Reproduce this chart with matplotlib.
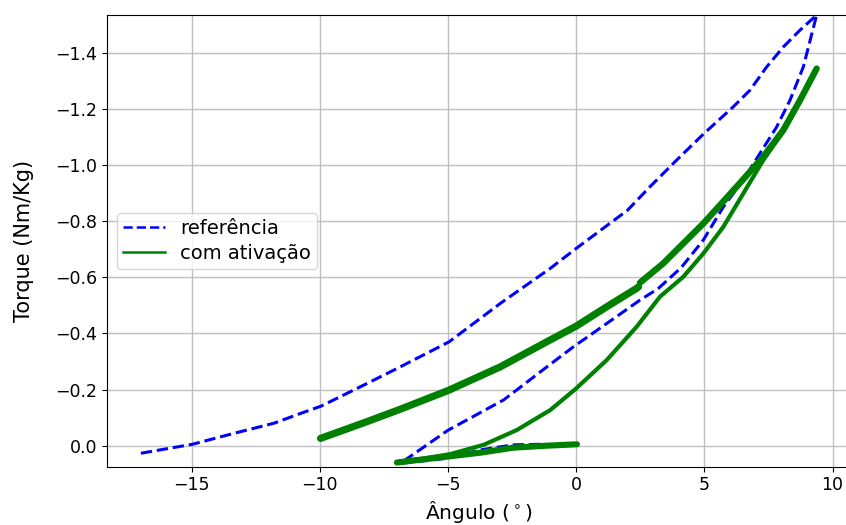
import matplotlib
matplotlib.use("Agg")
import matplotlib.pyplot as plt
from matplotlib.lines import Line2D

# Reference torque-angle loop (dashed blue)
ref_angle = [-16.98, -14.97, -13.35, -11.79, -10.75, -9.95, -8.15, -6.86, -4.96,
             -2.96, -1.01, 0.0, 2.00, 2.88, 3.92, 4.99, 6.13, 6.78, 7.43,
             8.08, 8.73, 9.38,
             8.86, 8.34, 7.82, 7.17, 6.52, 5.74, 4.96, 4.10, 3.20, 2.49, 1.20,
             -0.10, -1.14, -2.83, -5.00, -6.86,
             -5.04, -3.74, -2.44, -1.40, -0.40]
ref_torque = [0.027, -0.005, -0.044, -0.080, -0.115, -0.141, -0.222, -0.281, -0.370,
              -0.507, -0.632, -0.703, -0.839, -0.923, -1.018, -1.113, -1.208,
              -1.267, -1.350, -1.421, -1.481, -1.535,
              -1.350, -1.231, -1.136, -1.042, -0.947, -0.851, -0.733, -0.635, -0.560,
              -0.519, -0.436, -0.353, -0.281, -0.163, -0.055, 0.063,
              0.045, 0.015, -0.003, -0.005, -0.003]

# Activated model: rising branch up to the switch point
act_rise_angle = [-9.97, -8.15, -6.86, -4.96, -2.96, -1.01, 0.0, 1.19, 2.36, 2.43]
act_rise_torque = [-0.026, -0.086, -0.130, -0.198, -0.281, -0.377, -0.426, -0.495,
                   -0.561, -0.566]

# Activated model: rising branch after the switch point
act_upper_angle = [2.49, 3.40, 4.96, 6.26, 7.30, 8.08, 8.73, 9.38]
act_upper_torque = [-0.581, -0.650, -0.792, -0.923, -1.030, -1.125, -1.231, -1.344]

# Activated model: unloading branch
act_fall_angle = [9.38, 8.73, 8.08, 7.30, 6.52, 5.74, 4.96, 4.18, 3.27, 2.36, 1.19,
                  0.0, -1.01, -2.31, -3.61, -4.91, -5.90, -6.90]
act_fall_torque = [-1.344, -1.228, -1.120, -1.018, -0.899, -0.780, -0.685, -0.602,
                   -0.531, -0.424, -0.305, -0.204, -0.127, -0.056, -0.003, 0.030,
                   0.045, 0.057]

# Activated model: return branch near zero torque
act_return_angle = [-6.99, -5.04, -3.74, -2.44, -1.14, 0.03]
act_return_torque = [0.060, 0.039, 0.025, 0.007, 0.0, -0.005]

x_ticks = [-15, -10, -5, 0, 5, 10]
y_ticks = [-1.4, -1.2, -1.0, -0.8, -0.6, -0.4, -0.2, 0.0]

fig = plt.figure(figsize=(8.46, 5.25), dpi=100)
ax = fig.add_axes([0.1265, 0.111, 0.8794, 0.8604])

green = "green"
ax.plot(ref_angle, ref_torque, "--", color="blue", lw=2.2, zorder=2)
ax.plot(act_rise_angle, act_rise_torque, "-", color=green, lw=5.2,
        solid_capstyle="round", zorder=3)
ax.plot(act_upper_angle, act_upper_torque, "-", color=green, lw=4.6,
        solid_capstyle="round", zorder=3)
ax.plot(act_fall_angle, act_fall_torque, "-", color=green, lw=3.0,
        solid_capstyle="round", zorder=3)
ax.plot(act_return_angle, act_return_torque, "-", color=green, lw=4.4,
        solid_capstyle="round", zorder=3)

ax.set_xlim(-18.30, 10.72)
ax.set_ylim(0.075, -1.535)
ax.set_xticks(x_ticks)
ax.set_yticks(y_ticks)
ax.tick_params(labelsize=12.5)
ax.grid(True, color="#c0c0c0", lw=1.0)
ax.set_axisbelow(True)
ax.spines["right"].set_visible(False)

ax.set_xlabel("Ângulo ($^\\circ$)", fontsize=14.5, labelpad=3)
ax.set_ylabel("Torque (Nm/Kg)", fontsize=15, labelpad=15)

handles = [Line2D([], [], ls="--", color="blue", lw=1.8),
           Line2D([], [], ls="-", color=green, lw=1.8)]
ax.legend(handles, ["referência", "com ativação"], loc="center left",
          fontsize=14, handlelength=2.2, handletextpad=0.75,
          labelspacing=0.3, borderpad=0.3)

fig.savefig("out.png", dpi=100)
